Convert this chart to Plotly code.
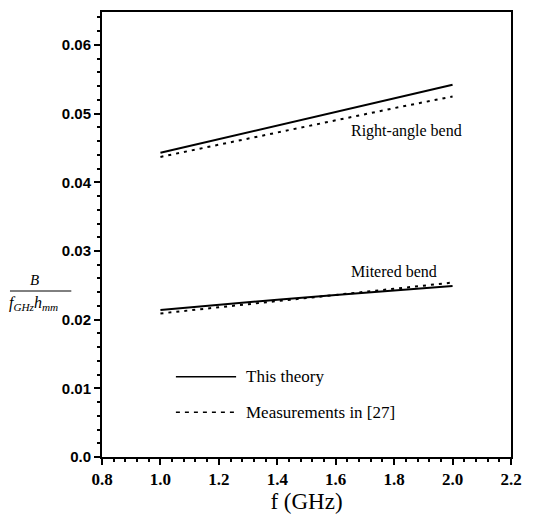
import plotly.graph_objects as go

freq = [1.0, 1.2, 1.4, 1.6, 1.8, 2.0]
right_theory = [0.0443, 0.0463, 0.0483, 0.0502, 0.0522, 0.0542]
right_meas = [0.0437, 0.0455, 0.0473, 0.0490, 0.0508, 0.0525]
miter_theory = [0.0214, 0.0222, 0.0229, 0.0236, 0.0242, 0.0249]
miter_meas = [0.0209, 0.0218, 0.0227, 0.0236, 0.0245, 0.0254]

x_ticks = [0.8, 1.0, 1.2, 1.4, 1.6, 1.8, 2.0, 2.2]
y_ticks = [0.0, 0.01, 0.02, 0.03, 0.04, 0.05, 0.06]
y_tick_text = ["0.0", "0.01", "0.02", "0.03", "0.04", "0.05", "0.06"]

FONT = "Liberation Serif"
solid = dict(color="black", width=2)
dashed = dict(color="black", width=2, dash="3px,5px")

fig = go.Figure()
fig.add_trace(go.Scatter(x=freq, y=right_theory, mode="lines", line=solid, showlegend=False))
fig.add_trace(go.Scatter(x=freq, y=right_meas, mode="lines", line=dashed, showlegend=False))
fig.add_trace(go.Scatter(x=freq, y=miter_theory, mode="lines", line=solid, showlegend=False))
fig.add_trace(go.Scatter(x=freq, y=miter_meas, mode="lines", line=dashed, showlegend=False))

# legend samples
fig.add_shape(type="line", x0=1.053, x1=1.259, y0=0.0117, y1=0.0117, line=dict(color="black", width=1.5))
fig.add_shape(type="line", x0=1.053, x1=1.259, y0=0.0065, y1=0.0065, line=dict(color="black", width=1.5, dash="4px,5px"))
fig.add_annotation(x=1.285, y=0.0117, text="This theory", showarrow=False, xanchor="left",
                   font=dict(family=FONT, size=17, color="black"))
fig.add_annotation(x=1.285, y=0.0065, text="Measurements in [27]", showarrow=False, xanchor="left",
                   font=dict(family=FONT, size=17, color="black"))

fig.add_annotation(x=1.646, y=0.0475, text="Right-angle bend", showarrow=False, xanchor="left",
                   font=dict(family=FONT, size=16, color="black"))
fig.add_annotation(x=1.646, y=0.0270, text="Mitered bend", showarrow=False, xanchor="left",
                   font=dict(family=FONT, size=16, color="black"))

# y-axis label as a fraction
fig.add_annotation(xref="paper", yref="paper", x=-0.165, y=0.376, text="<i>B</i>", showarrow=False,
                   xanchor="center", yanchor="bottom", font=dict(family=FONT, size=15, color="black"))
fig.add_annotation(xref="paper", yref="paper", x=-0.232, y=0.371, text="<i>f<sub>GHz</sub>h<sub>mm</sub></i>",
                   showarrow=False, xanchor="left", yanchor="top", font=dict(family=FONT, size=16, color="black"))
fig.add_shape(type="line", xref="paper", yref="paper", x0=-0.225, x1=-0.075, y0=0.373, y1=0.373,
              line=dict(color="black", width=1))

axis_common = dict(
    showline=True, linecolor="black", linewidth=2, mirror=True,
    showgrid=False, zeroline=False,
    ticks="outside", ticklen=6, tickwidth=1.5, tickcolor="black",
)
fig.update_xaxes(range=[0.8, 2.2], tickvals=x_ticks, ticktext=[f"{v:.1f}" for v in x_ticks],
                 tickfont=dict(family="Liberation Serif, serif", size=17, color="black", weight="bold"),
                 minor=dict(dtick=0.04, tick0=0.8, ticks="outside", ticklen=3, tickcolor="black"),
                 title=dict(text="f (GHz)", font=dict(family=FONT, size=23, color="black"), standoff=0),
                 **axis_common)
fig.update_yaxes(range=[0.0, 0.0648], tickvals=y_ticks, ticktext=y_tick_text,
                 tickfont=dict(family="Liberation Sans", size=15, color="black", weight="bold"),
                 minor=dict(dtick=0.002, tick0=0, ticks="outside", ticklen=3, tickcolor="black"),
                 **axis_common)

fig.update_layout(width=534, height=517, margin=dict(l=102, r=23, t=10, b=60),
                  plot_bgcolor="white", paper_bgcolor="white")
fig.write_html("out.html")
